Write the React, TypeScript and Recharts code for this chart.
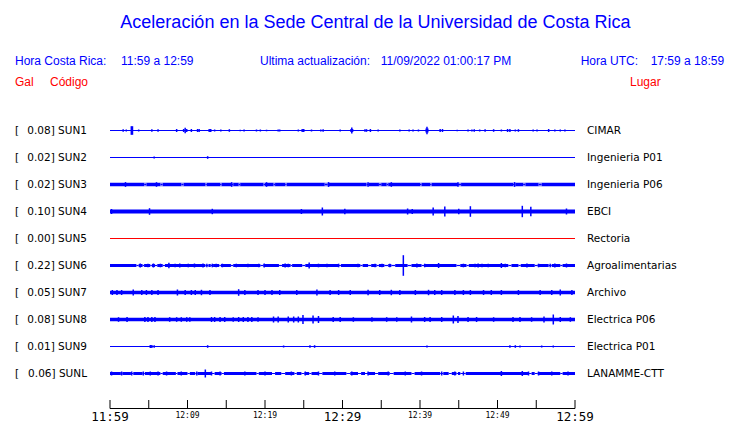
import React from 'react';
import { ComposedChart, XAxis, YAxis, Scatter, ErrorBar, ReferenceArea } from 'recharts';

// stations, top to bottom
const stations = ['SUN1', 'SUN2', 'SUN3', 'SUN4', 'SUN5', 'SUN6', 'SUN7', 'SUN8', 'SUN9', 'SUNL'];
const galValues = ['0.08', '0.02', '0.02', '0.10', '0.00', '0.22', '0.05', '0.08', '0.01', '0.06'];
const places = ['CIMAR', 'Ingenieria P01', 'Ingenieria P06', 'EBCI', 'Rectoria', 'Agroalimentarias', 'Archivo', 'Electrica P06', 'Electrica P01', 'LANAMME-CTT'];
const rowValues = [10, 9, 8, 7, 6, 5, 4, 3, 2, 1];

// background noise level of each trace (half width, trace counts)
const noiseFloor = [0.5, 0.5, 1.8, 2.0, 0.5, 1.4, 1.7, 1.8, 0.5, 1.5];
// noise level inside the quiet stretches
const quietLevel = [0.5, 0.5, 1.0, 1.2, 0.5, 0.5, 1.0, 1.0, 0.5, 0.5];

// quiet stretches [from, to] in minutes after 11:59
const quiet3: [number, number][] = [
  [4.4, 4.7], [6.5, 6.8], [9.2, 9.5], [12.3, 12.5], [14.2, 14.4], [15.7, 15.9], [16.6, 16.8], [19.8, 20.0],
  [21.1, 21.3], [22.6, 22.8], [27.7, 28.1], [33.1, 33.4], [34.7, 35.0], [35.7, 35.9], [40.0, 40.2],
  [41.3, 41.5], [44.9, 45.3], [52.0, 52.3], [53.3, 53.6], [55.3, 55.7],
];
const quiet6: [number, number][] = [
  [3.4, 3.7], [4.2, 4.4], [5.2, 5.4], [5.8, 6.1], [6.8, 7.1], [12.3, 12.7], [13.0, 13.3], [14.1, 14.3],
  [15.6, 15.9], [19.4, 19.8], [21.8, 22.2], [23.3, 23.5], [24.8, 25.2], [29.5, 29.8], [32.3, 32.6],
  [33.3, 33.7], [34.4, 34.7], [35.4, 35.9], [36.3, 36.8], [38.4, 38.9], [40.2, 40.6], [44.7, 45.2],
  [46.0, 46.3], [51.4, 51.8], [52.7, 53.0], [54.8, 55.2], [56.6, 57.0], [58.1, 58.4],
];
const quietL: [number, number][] = [
  [1.4, 1.6], [2.7, 3.0], [4.2, 4.5], [6.5, 6.8], [8.5, 8.7], [10.0, 10.3], [11.0, 11.3], [13.1, 13.5],
  [14.4, 14.7], [18.9, 19.2], [20.9, 21.3], [22.1, 22.6], [23.8, 24.1], [24.7, 25.1], [25.7, 26.0],
  [26.9, 27.4], [30.5, 31.0], [32.0, 32.4], [32.9, 33.3], [34.2, 34.6], [36.1, 36.6], [38.9, 39.3],
  [42.6, 43.0], [43.7, 44.1], [44.7, 44.9], [45.2, 45.9], [54.0, 54.4], [54.8, 55.2], [58.1, 58.4],
];
const quiet: [number, number][][] = [[], [], quiet3, [], [], quiet6, [], [], [], quietL];

// minutes after 11:59, peak amplitude (trace counts)
const sun1: [number, number][] = [
  [1.7, 1.3], [2.1, 1], [2.75, 4.3], [2.9, 4.3], [3.7, 1], [5.4, 1.3], [6.2, 1.3], [8.6, 1.5],
  [9.5, 1.5], [9.7, 2.7], [9.9, 1.5], [10.5, 1.5], [11.3, 1.5], [11.5, 1.5], [12.8, 1.5], [13.0, 1.5],
  [13.5, 1], [14.3, 1], [15.4, 1.3], [16.8, 0.8], [17.3, 1], [18.9, 1], [19.4, 1], [20.2, 0.8],
  [21.7, 1], [21.9, 1], [24.3, 1], [24.8, 1.5], [25.0, 1.5], [26.0, 1], [27.2, 1], [27.5, 1.3],
  [29.7, 1], [31.1, 1.5], [31.2, 3], [31.3, 1.5], [32.9, 1.3], [33.1, 1.3], [33.6, 1.5], [34.6, 1],
  [37.4, 1], [38.6, 1], [39.1, 1], [39.8, 1], [40.8, 2], [40.9, 3.7], [41.0, 2], [42.6, 1.5],
  [42.9, 1.5], [44.8, 0.8], [46.2, 1], [46.7, 1], [47.0, 1.3], [47.7, 1], [48.4, 1.3], [49.5, 1.3],
  [50.5, 1], [51.3, 1.5], [51.6, 1.5], [52.3, 1], [52.7, 1.3], [54.6, 1], [55.1, 1], [56.6, 1.5],
  [57.4, 1], [58.1, 1], [58.7, 1],
];
const sun2: [number, number][] = [[5.7, 1], [12.6, 1.3]];
const sun3: [number, number][] = [
  [2.0, 2.4], [6.0, 2.3], [15.7, 2.3], [20.2, 2.3], [28.2, 2.4], [33.3, 2.3], [36.3, 2.3], [44.9, 2.3], [52.2, 2.4],
];
const sun4: [number, number][] = [
  [0.2, 2.5], [5.1, 3.3], [13.2, 2.7], [24.7, 2.5], [27.4, 4], [30.3, 2.7], [38.4, 3], [39.0, 2.5],
  [41.7, 4], [43.2, 5], [45.0, 2.7], [46.5, 5.3], [53.2, 5.7], [54.3, 4.7], [58.9, 3],
];
const sun5: [number, number][] = [];
const sun6: [number, number][] = [
  [3.9, 2], [4.9, 1.8], [5.6, 2], [6.5, 1.8], [7.6, 2.7], [8.4, 1.8], [9.0, 2], [10.1, 1.8],
  [10.9, 2], [12.0, 2], [12.5, 1.8], [13.2, 1.8], [13.7, 1.8], [14.5, 1.8], [16.3, 1.8], [17.8, 1.8],
  [19.2, 1.8], [19.9, 2], [22.6, 2], [23.0, 1.8], [25.7, 3], [26.9, 1.8], [28.0, 1.8], [29.5, 1.8],
  [32.0, 1.8], [34.2, 1.8], [35.1, 1.8], [36.1, 1.8], [37.85, 10.3], [39.6, 2], [40.6, 1.8], [42.4, 2.5],
  [45.6, 1.8], [47.1, 1.8], [47.5, 2], [48.0, 1.8], [48.8, 1.8], [50.5, 2.5], [51.0, 1.8], [53.8, 2],
  [55.3, 1.8], [56.8, 1.8], [57.4, 2], [58.9, 2],
];
const sun7: [number, number][] = [
  [0.3, 2.5], [0.9, 2.5], [1.5, 2.5], [3.0, 3], [4.1, 2.5], [4.7, 2.5], [5.4, 2.5], [6.2, 2.5],
  [8.7, 3], [9.7, 2.5], [10.5, 2.5], [11.0, 2.5], [11.8, 2.7], [12.9, 2.5], [16.6, 3.3], [17.4, 2.5],
  [19.1, 2.5], [20.0, 2.5], [20.9, 2.5], [21.9, 2.5], [24.1, 2.5], [26.7, 3], [28.4, 2.5], [29.5, 2.5],
  [31.0, 2.5], [33.3, 2.7], [34.8, 2.5], [36.3, 2.7], [37.4, 2.5], [39.4, 2.5], [41.1, 2.7], [41.9, 2.5],
  [42.8, 2.5], [44.5, 2.5], [45.6, 2.5], [46.5, 2.5], [48.2, 2.5], [49.2, 2.5], [50.5, 2.5], [52.7, 2.5],
  [55.5, 2.5], [57.0, 2.5], [58.1, 3], [59.6, 2.5],
];
const sun8: [number, number][] = [
  [1.1, 2.3], [2.2, 2.5], [4.5, 2.5], [4.9, 2.5], [5.4, 2.5], [5.8, 2.5], [7.7, 2.3], [8.6, 2.3],
  [9.2, 2.3], [9.9, 2.3], [10.3, 2.3], [13.1, 2.5], [13.5, 2.5], [14.2, 2.5], [14.8, 2.5], [15.9, 2.3],
  [16.6, 2.5], [17.2, 2.5], [17.8, 2.5], [18.3, 2.5], [19.1, 2.3], [21.1, 3], [21.7, 3], [23.0, 3],
  [23.7, 3], [24.3, 3], [24.9, 4.5], [26.2, 4], [26.9, 3.5], [28.8, 2.5], [29.7, 2.5], [31.4, 2.3],
  [33.8, 2.3], [35.7, 2.3], [37.0, 2.3], [38.9, 3], [40.6, 2.5], [41.3, 2.5], [42.8, 2.5], [44.3, 4],
  [44.9, 3.5], [46.2, 2.5], [47.3, 2.5], [49.5, 2.3], [52.0, 2.5], [52.9, 2.5], [54.4, 2.3], [56.0, 3],
  [57.2, 5], [58.1, 2.5], [59.4, 2.3],
];
const sun9: [number, number][] = [
  [5.2, 1.5], [5.4, 1.5], [5.7, 1.3], [12.6, 1.3], [22.4, 1], [25.8, 1.3], [26.4, 1.3], [40.9, 1],
  [51.6, 1.3], [52.3, 1.3], [52.9, 1], [55.7, 1], [57.2, 1],
];
const sunL: [number, number][] = [
  [0.2, 2], [1.5, 2], [2.8, 2], [4.3, 2], [5.2, 2], [6.2, 2], [7.3, 2], [9.2, 2], [11.2, 2],
  [12.3, 4], [13.1, 2], [14.2, 2], [17.4, 2], [20.0, 2], [23.4, 2], [25.2, 2], [26.9, 2], [29.0, 2],
  [31.2, 2], [33.3, 2], [35.9, 2], [38.1, 2], [40.2, 2], [42.8, 2], [44.5, 2], [45.6, 2], [50.5, 2.5],
  [53.2, 2.5], [54.0, 2], [55.3, 2], [57.0, 2], [59.1, 2],
];
const spikes = [sun1, sun2, sun3, sun4, sun5, sun6, sun7, sun8, sun9, sunL];

const timeTicks = [0, 5, 10, 15, 20, 25, 30, 35, 40, 45, 50, 55, 60];
const timeLabels: Record<number, string> = { 0: '11:59', 10: '12:09', 20: '12:19', 30: '12:29', 40: '12:39', 50: '12:49', 60: '12:59' };

const ROW_COUNTS = 27; // trace counts per row spacing
const BLUE = '#0000ff';
const RED = '#ff0000';
const SANS = '"Liberation Sans", Arial, sans-serif';
const DEJAVU = '"DejaVu Sans", sans-serif';

const spikePoints = spikes.flatMap((list, i) =>
  list.map(([t, a]) => ({ t, y: rowValues[i], err: a / ROW_COUNTS }))
);

const LeftTick = (props: any) => {
  const { x, y, payload } = props;
  const i = rowValues.indexOf(payload.value);
  return (
    <g fontFamily={DEJAVU} fontSize={10.5} fill="#000">
      <text x={15} y={y} dy="0.36em">[</text>
      <text x={x - 23} y={y} dy="0.36em" textAnchor="end">{galValues[i]}] {stations[i]}</text>
    </g>
  );
};

const RightTick = (props: any) => {
  const { x, y, payload } = props;
  const i = rowValues.indexOf(payload.value);
  return (
    <text x={x + 12} y={y} dy="0.36em" fontFamily={DEJAVU} fontSize={10.5} fill="#000">{places[i]}</text>
  );
};

const TimeTick = (props: any) => {
  const { x, y, payload } = props;
  const label = timeLabels[payload.value];
  const big = payload.value % 30 === 0;
  return (
    <g>
      <line x1={x} x2={x} y1={y - 8.5} y2={y} stroke="#000" strokeWidth={1} />
      {label && (
        <text x={x} y={y + (big ? 12.5 : 9.5)} textAnchor="middle" fontFamily='"DejaVu Sans Mono", monospace' fontSize={big ? 12.5 : 8} fill="#000">
          {label}
        </text>
      )}
    </g>
  );
};

export default function App() {
  return (
    <div style={{ position: 'absolute', left: 0, top: 0, width: 740, height: 423, background: '#fff' }}>
      <svg width={740} height={100} style={{ position: 'absolute', left: 0, top: 0 }}>
        <text x={375.5} y={28} textAnchor="middle" fontFamily={SANS} fontSize={18} fill={BLUE}>
          Aceleración en la Sede Central de la Universidad de Costa Rica
        </text>
        <g fontFamily={SANS} fontSize={12} fill={BLUE}>
          <text x={15} y={65}>Hora Costa Rica:</text>
          <text x={121} y={65}>11:59 a 12:59</text>
          <text x={260} y={65}>Ultima actualización:</text>
          <text x={380.7} y={65}>11/09/2022 01:00:17 PM</text>
          <text x={580.7} y={65}>Hora UTC:</text>
          <text x={650.7} y={65}>17:59 a 18:59</text>
        </g>
        <g fontFamily={SANS} fontSize={12} fill={RED}>
          <text x={15} y={85.5}>Gal</text>
          <text x={50} y={85.5}>Código</text>
          <text x={630} y={85.5}>Lugar</text>
        </g>
      </svg>
      <div style={{ position: 'absolute', left: 0, top: 0 }}>
        <ComposedChart width={740} height={423} data={spikePoints} margin={{ top: 103.5, right: 0, bottom: 0, left: 0 }}>
          <XAxis
            dataKey="t"
            type="number"
            domain={[0, 60]}
            ticks={timeTicks}
            interval={0}
            height={14.5}
            tickSize={0}
            tickMargin={0}
            tickLine={false}
            axisLine={{ stroke: '#000' }}
            tick={TimeTick}
          />
          <YAxis
            yAxisId="l"
            type="number"
            domain={[-8 / 27, 11]}
            allowDataOverflow
            ticks={rowValues}
            interval={0}
            width={110}
            tickSize={0}
            tickMargin={0}
            tickLine={false}
            axisLine={false}
            tick={LeftTick}
          />
          <YAxis
            yAxisId="r"
            orientation="right"
            type="number"
            domain={[-8 / 27, 11]}
            allowDataOverflow
            ticks={rowValues}
            interval={0}
            width={165}
            tickSize={0}
            tickMargin={0}
            tickLine={false}
            axisLine={false}
            tick={RightTick}
          />
          {rowValues.map((v, i) => (
            <ReferenceArea
              key={stations[i]}
              yAxisId="l"
              x1={0}
              x2={60}
              y1={v - noiseFloor[i] / ROW_COUNTS}
              y2={v + noiseFloor[i] / ROW_COUNTS}
              fill={stations[i] === 'SUN5' ? RED : BLUE}
              fillOpacity={1}
              stroke="none"
            />
          ))}
          {rowValues.flatMap((v, i) =>
            quiet[i].map(([a, b]) => (
              <ReferenceArea
                key={`gap-${i}-${a}`}
                yAxisId="l"
                x1={a}
                x2={b}
                y1={v - noiseFloor[i] / ROW_COUNTS}
                y2={v + noiseFloor[i] / ROW_COUNTS}
                fill="#fff"
                fillOpacity={1}
                stroke="none"
              />
            ))
          )}
          {rowValues.flatMap((v, i) =>
            quiet[i].map(([a, b]) => (
              <ReferenceArea
                key={`core-${i}-${a}`}
                yAxisId="l"
                x1={a}
                x2={b}
                y1={v - quietLevel[i] / ROW_COUNTS}
                y2={v + quietLevel[i] / ROW_COUNTS}
                fill={BLUE}
                fillOpacity={1}
                stroke="none"
              />
            ))
          )}
          <Scatter yAxisId="l" dataKey="y" fill={BLUE} shape={() => <g />} isAnimationActive={false}>
            <ErrorBar dataKey="err" direction="y" width={0} stroke={BLUE} strokeWidth={1.5} isAnimationActive={false} />
          </Scatter>
        </ComposedChart>
      </div>
    </div>
  );
}
